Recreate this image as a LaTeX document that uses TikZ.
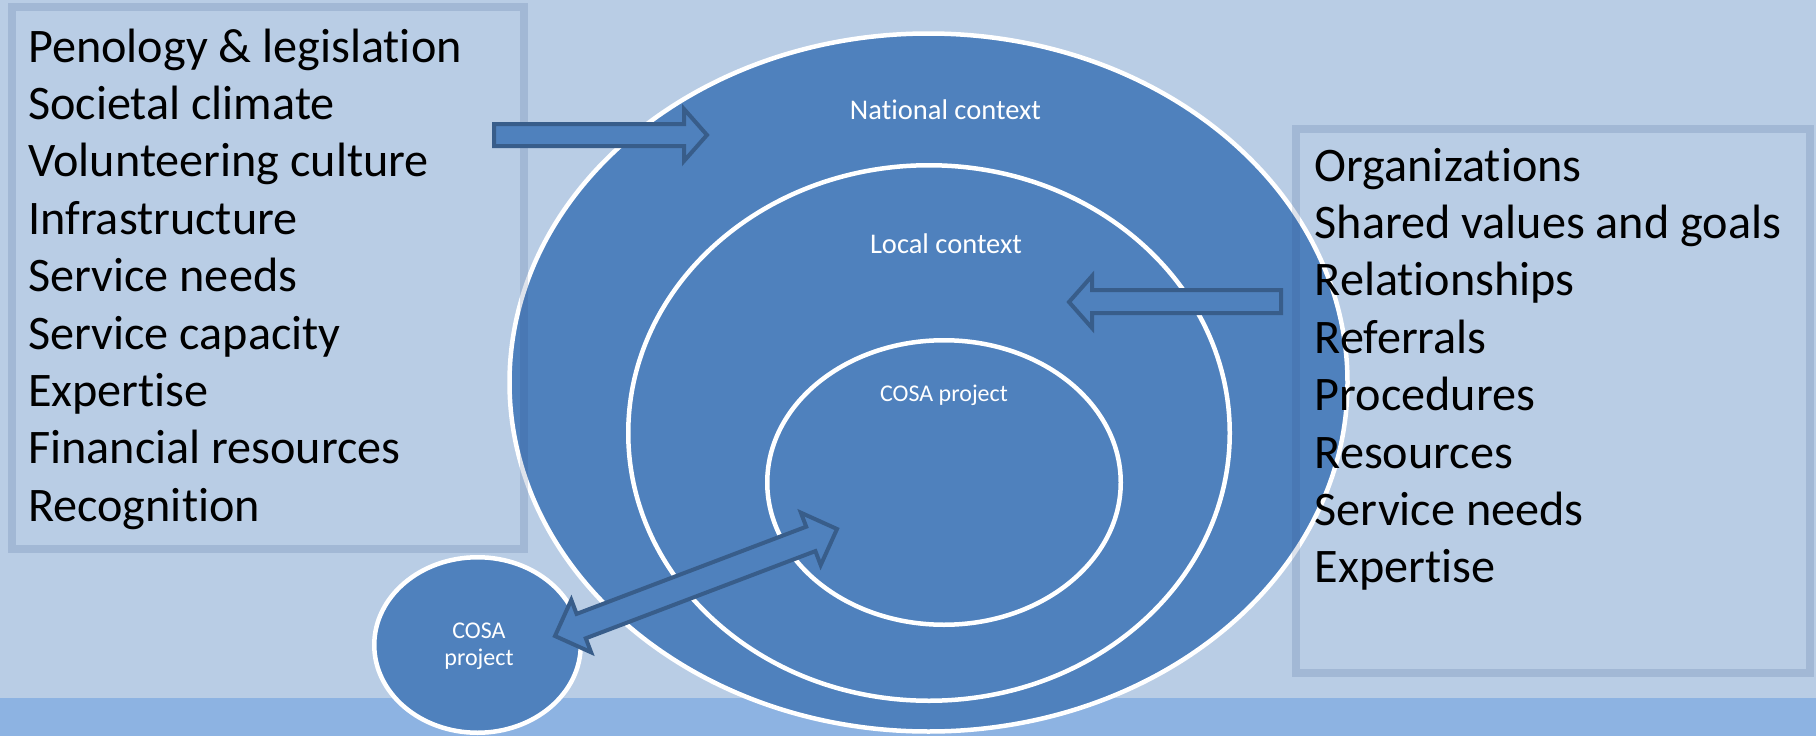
\documentclass[tikz,border=0pt]{standalone}
\usepackage{fontspec}
\setmainfont{Carlito}[Ligatures={NoCommon,NoRequired,NoContextual}]
\usetikzlibrary{shapes.geometric}
\definecolor{bgc}{RGB}{185,205,229}
\definecolor{band}{RGB}{141,179,226}
\definecolor{ellfill}{RGB}{79,129,189}
\definecolor{arrline}{RGB}{56,93,138}
\definecolor{boxline}{RGB}{46,79,134}
\begin{document}
\begin{tikzpicture}[x=1pt,y=-1pt,
  ring/.style={ellipse, fill=ellfill, draw=white, line width=4.5pt, inner sep=0pt, outer sep=0pt},
  framebox/.style={draw=boxline, draw opacity=0.16, line width=8pt},
  blockarrow/.style={fill=ellfill, draw=arrline, line width=4pt, line join=miter},
  listitem/.style={anchor=base west, inner sep=0pt, font=\fontsize{48.2}{57}\selectfont, text=black},
  ringlabel/.style={anchor=base, inner sep=0pt, font=\fontsize{24}{28}\selectfont, text=white},
  biglabel/.style={anchor=base, inner sep=0pt, font=\fontsize{28.5}{33}\selectfont, text=white}]
\fill[bgc] (0,0) rectangle (1816,736);
\fill[band] (0,698) rectangle (1816,736);
\useasboundingbox (0,0) rectangle (1816,736);
% ellipses
\node[ring, minimum width=838pt, minimum height=698pt] (national) at (928.5,382.5) {};
\node[ring, minimum width=601.5pt, minimum height=535.5pt] (local) at (929,433) {};
\node[ring, minimum width=353.5pt, minimum height=284.5pt] (cosa) at (944,482.5) {};
\node[ring, minimum width=206.5pt, minimum height=175.5pt] (cosasmall) at (477.5,645) {};
% frames
\draw[framebox] (12,7) rectangle (524,549);
\draw[framebox] (1296,129) rectangle (1810,673);
% block arrows
\draw[blockarrow] (494,124) -- (684,124) -- (684,109) -- (707,135) -- (684,161) -- (684,146) -- (494,146) -- cycle;
\draw[blockarrow] (1281,290) -- (1092,290) -- (1092,276) -- (1069,302) -- (1092,328) -- (1092,313) -- (1281,313) -- cycle;
\draw[blockarrow] (555,636) -- (571.3,599.9) -- (576.6,613.9) -- (806.2,526.7) -- (800.9,512.7) -- (837,529)
  -- (820.7,565.1) -- (815.4,551.1) -- (585.8,638.3) -- (591.1,652.3) -- cycle;
% ellipse labels
\node[biglabel] (lnat) at (945.5,119) {National context};
\node[biglabel] (lloc) at (946,253) {Local context};
\node[ringlabel] (lcosa) at (944,401) {COSA project};
\node[ringlabel] (lsm1) at (479,638) {COSA};
\node[ringlabel] (lsm2) at (479,665) {project};
% left list
\node[listitem] (l1) at (28,62) {Penology \& legislation};
\node[listitem] (l2) at (28,119.4) {Societal climate};
\node[listitem] (l3) at (28,176.8) {Volunteering culture};
\node[listitem] (l4) at (28,234.2) {Infrastructure};
\node[listitem] (l5) at (28,291.6) {Service needs};
\node[listitem] (l6) at (28,349) {Service capacity};
\node[listitem] (l7) at (28,406.4) {Expertise};
\node[listitem] (l8) at (28,463.8) {Financial resources};
\node[listitem] (l9) at (28,521.2) {Recognition};
% right list
\node[listitem] (r1) at (1314.5,181) {Organizations};
\node[listitem] (r2) at (1314.5,238.4) {Shared values and goals};
\node[listitem] (r3) at (1314.5,295.8) {Relationships};
\node[listitem] (r4) at (1314.5,353.2) {Referrals};
\node[listitem] (r5) at (1314.5,410.6) {Procedures};
\node[listitem] (r6) at (1314.5,468) {Resources};
\node[listitem] (r7) at (1314.5,525.4) {Service needs};
\node[listitem] (r8) at (1314.5,582.8) {Expertise};
\end{tikzpicture}
\end{document}
